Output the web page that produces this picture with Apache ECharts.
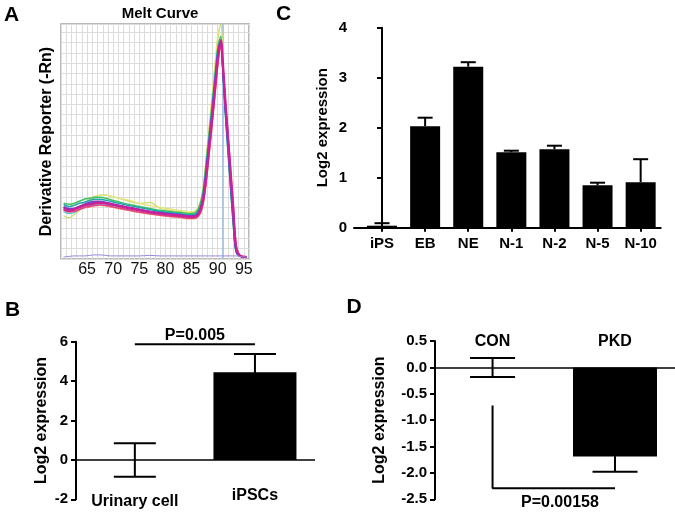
<!DOCTYPE html>
<html><head><meta charset="utf-8">
<script src="https://cdn.jsdelivr.net/npm/echarts@6/dist/echarts.min.js"></script>
<style>html,body{margin:0;padding:0;background:#fff}#c{width:675px;height:512px}</style>
</head><body><div id="c"></div>
<script>
const FONT = '"Liberation Sans", Arial, Helvetica, sans-serif';

// ---------- Panel A: melt curves ----------
const meltTemps = [60.5,61.5,62.5,63.5,64.5,65.5,66.5,67.5,68.5,69.5,71,73,75,77,79,81,83,84.5,85.5,86.2,86.8,87.3,87.8,88.4,89,89.6,90.1,90.6,91,91.5,92,92.5,93,93.5,94.2,95.5];
const meltYellowGreen = [4.2,4.0,4.3,4.7,5.1,5.6,6.0,6.2,6.2,6.1,5.9,5.6,5.4,5.5,4.9,4.7,4.6,4.5,4.5,4.9,5.7,7.2,9.6,12.8,16.0,19.2,21.6,22.8,19.2,14.8,11.0,7.2,3.6,0.9,0.3,0.2];
const meltLightYellow = [4.6,4.5,4.7,5.0,5.4,5.8,6.1,6.2,6.2,6.1,5.9,5.7,5.4,5.2,5.0,4.85,4.7,4.6,4.6,5.0,5.8,7.3,9.8,13.0,16.3,19.5,22.0,22.6,19.0,14.5,10.8,7.0,3.5,0.9,0.3,0.2];
const meltOrange = [4.7,4.5,4.6,4.8,4.95,5.05,5.15,5.2,5.15,5.05,4.9,4.7,4.5,4.35,4.2,4.1,4.0,3.9,3.9,4.05,4.5,5.5,7.3,10.2,13.2,16.4,19.0,20.5,18.7,15.0,11.7,8.3,4.9,1.4,0.4,0.2];
const meltCyan = [4.6,4.4,4.5,4.8,5.0,5.2,5.3,5.35,5.3,5.2,5.05,4.85,4.65,4.45,4.3,4.2,4.1,4.05,4.05,4.3,4.95,6.1,8.2,11.2,14.2,17.4,19.9,20.8,18.4,14.4,10.8,7.3,3.9,1.0,0.3,0.2];
const meltGreen = [5.4,5.3,5.4,5.6,5.8,5.9,6.0,6.0,5.9,5.75,5.55,5.3,5.1,4.9,4.7,4.6,4.5,4.4,4.45,4.8,5.6,7.0,9.4,12.4,15.4,18.5,20.8,21.6,18.3,14.0,10.4,6.8,3.4,0.8,0.3,0.2];
const meltTeal = [5.3,5.1,5.2,5.4,5.5,5.7,5.8,5.8,5.7,5.6,5.4,5.2,5.0,4.8,4.6,4.5,4.4,4.3,4.3,4.6,5.3,6.7,9.0,12.0,15.0,18.2,20.5,21.3,18.0,13.8,10.2,6.6,3.2,0.7,0.3,0.2];
const meltBlue = [5.0,4.8,4.9,5.1,5.25,5.4,5.5,5.5,5.45,5.35,5.2,5.0,4.8,4.6,4.5,4.4,4.3,4.2,4.2,4.45,5.1,6.4,8.6,11.6,14.6,17.8,20.2,20.9,18.2,14.2,10.6,7.0,3.6,0.8,0.3,0.2];
const meltRed = [4.8,4.6,4.6,4.8,5.0,5.1,5.2,5.25,5.2,5.1,4.95,4.75,4.55,4.4,4.25,4.15,4.05,3.95,3.95,4.1,4.6,5.6,7.5,10.4,13.4,16.6,19.2,20.6,18.8,15.3,12.0,8.6,5.2,1.6,0.4,0.2];
const meltPurple = [5.1,4.9,4.9,5.1,5.3,5.5,5.6,5.6,5.5,5.4,5.2,5.0,4.8,4.6,4.45,4.35,4.25,4.15,4.15,4.4,5.0,6.2,8.3,11.3,14.3,17.5,20.0,21.0,18.5,14.6,11.2,7.6,4.2,1.0,0.3,0.2];
const meltMagenta = [4.9,4.7,4.8,5.0,5.2,5.3,5.4,5.45,5.4,5.3,5.15,4.95,4.75,4.55,4.4,4.3,4.2,4.1,4.1,4.3,4.9,6.0,8.0,11.0,14.0,17.2,19.8,21.2,18.9,15.0,11.6,8.1,4.7,1.2,0.35,0.2];
const meltBaseline = [0.2,0.25,0.3,0.3,0.3,0.35,0.4,0.4,0.35,0.3,0.3,0.3,0.3,0.35,0.3,0.3,0.3,0.3,0.3,0.3,0.3,0.3,0.3,0.3,0.3,0.3,0.3,0.3,0.3,0.3,0.3,0.3,0.3,0.3,0.25,0.2];
const meltTickLabels = [65,70,75,80,85,90,95];
const meltMarkerTemp = 91;
const meltYTop = 22.8;

// ---------- Panel C ----------
const cCategories = ['iPS','EB','NE','N-1','N-2','N-5','N-10'];
const cValues = [0.04,2.03,3.22,1.51,1.57,0.85,0.91];
const cErrors = [0.05,0.17,0.09,0.03,0.07,0.05,0.46];

// ---------- Panel B ----------
const bCategories = ['Urinary cell','iPSCs'];
const bValues = [0,4.45];
const bErrors = [0.85,0.93];
const bPLabel = 'P=0.005';
const bPLevel = 5.87;

// ---------- Panel D ----------
const dCategories = ['CON','PKD'];
const dValues = [0,-1.69];
const dErrors = [0.18,0.29];
const dPLabel = 'P=0.00158';
const dBracketTop = -0.72;
const dBracketBottom = -2.29;

const chart = echarts.init(document.getElementById('c'), null, {renderer:'canvas'});

const meltSeriesDefs = [
  [meltYellowGreen,'#c9dc6a',1.3],
  [meltLightYellow,'#e4e67e',1.3],
  [meltOrange,'#eaa07a',1.3],
  [meltCyan,'#5cc6e6',1.4],
  [meltGreen,'#3fc25e',1.5],
  [meltTeal,'#22a4aa',1.5],
  [meltBlue,'#3b58d8',1.5],
  [meltRed,'#e6437c',1.5],
  [meltPurple,'#7b40c2',1.7],
  [meltMagenta,'#cc1f98',2.4]
];

function pairs(xs, ys){ return ys.map((v,i)=>[xs[i], v]); }
function idxPairs(ys){ return ys.map((v,i)=>[i, v]); }

function errSeries(xi, yi, values, errors, capW, both){
  return {
    type:'custom', xAxisIndex:xi, yAxisIndex:yi, z:5, silent:true,
    data: values.map((v,i)=>[i, v, errors[i]]),
    renderItem: function(params, api){
      const x = api.value(0), m = api.value(1), e = api.value(2);
      const top = api.coord([x, m + e]);
      const base = api.coord([x, both ? m - e : m]);
      const h = capW/2;
      const st = {stroke:'#000', lineWidth:2};
      const ch = [
        {type:'line', shape:{x1:top[0],y1:top[1],x2:base[0],y2:base[1]}, style:st},
        {type:'line', shape:{x1:top[0]-h,y1:top[1],x2:top[0]+h,y2:top[1]}, style:st}
      ];
      if (both) ch.push({type:'line', shape:{x1:base[0]-h,y1:base[1],x2:base[0]+h,y2:base[1]}, style:st});
      return {type:'group', children:ch};
    }
  };
}

function textPoint(xi, yi, pt, text, pos, dist){
  return {type:'scatter', xAxisIndex:xi, yAxisIndex:yi, data:[pt], symbol:'circle', symbolSize:0,
    itemStyle:{color:'#000', opacity:1}, silent:true, z:6,
    label:{show:true, position:pos, distance:dist, formatter:text, color:'#000', opacity:1,
      fontFamily:FONT, fontWeight:'bold', fontSize:16}};
}

const series = [];
series.push({type:'line', xAxisIndex:0, yAxisIndex:0, data:[[meltMarkerTemp,0],[meltMarkerTemp,meltYTop]],
  symbol:'none', silent:true, z:1, lineStyle:{color:'#7ea6dc', width:1}});
meltSeriesDefs.forEach(d=>{
  series.push({type:'line', xAxisIndex:0, yAxisIndex:0, data:pairs(meltTemps,d[0]), smooth:0.35,
    showSymbol:false, symbol:'none', silent:true, lineStyle:{color:d[1], width:d[2]}});
});
series.push({type:'line', xAxisIndex:0, yAxisIndex:0, data:pairs(meltTemps,meltBaseline), smooth:0.3,
  showSymbol:false, symbol:'none', silent:true, lineStyle:{color:'#9a86d8', width:1}});

// Panel C
series.push({type:'bar', xAxisIndex:1, yAxisIndex:1, data:idxPairs(cValues), barWidth:30, itemStyle:{color:'#000'}, silent:true});
series.push(errSeries(1,1,cValues,cErrors,15,false));

// Panel B
series.push({type:'bar', xAxisIndex:2, yAxisIndex:2, data:idxPairs(bValues), barWidth:83, itemStyle:{color:'#000'}, silent:true,
  markLine:{symbol:'none', silent:true, label:{show:false}, lineStyle:{color:'#000', width:1.5, type:'solid'}, data:[{yAxis:0}]}});
series.push(errSeries(2,2,bValues,bErrors,42,true));
series.push({type:'line', xAxisIndex:2, yAxisIndex:2, data:[[0,bPLevel],[1,bPLevel]], symbol:'none', silent:true,
  lineStyle:{color:'#000', width:2}});
series.push(textPoint(2,2,[0.5,bPLevel],bPLabel,'top',1));

// Panel D
series.push({type:'bar', xAxisIndex:3, yAxisIndex:3, data:idxPairs(dValues), barWidth:84, itemStyle:{color:'#000'}, silent:true,
  markLine:{symbol:'none', silent:true, label:{show:false}, lineStyle:{color:'#000', width:1.5, type:'solid'}, data:[{yAxis:0}]}});
series.push(errSeries(3,3,dValues,dErrors,45,true));
series.push({type:'line', xAxisIndex:3, yAxisIndex:3, data:[[0,dBracketTop],[0,dBracketBottom],[1,dBracketBottom]], symbol:'none', silent:true,
  lineStyle:{color:'#000', width:2}});
series.push(textPoint(3,3,[0.55,dBracketBottom],dPLabel,'bottom',6));

const boldLbl = {color:'#000', fontFamily:FONT, fontWeight:'bold', fontSize:15};
const blackLine = {show:true, lineStyle:{color:'#000', width:2}};
const blackTick = {show:true, length:5, inside:false, lineStyle:{color:'#000', width:2}};

const option = {
  animation:false,
  backgroundColor:'#fff',
  textStyle:{fontFamily:FONT},
  grid:[
    {left:61, top:24, width:188, height:235, show:true, borderColor:'#a3a3a3', borderWidth:1.5, backgroundColor:'#fff', outerBoundsMode:'none', containLabel:false},
    {left:354, top:27.7, width:306.7, height:200, outerBoundsMode:'none', containLabel:false},
    {left:76, top:341.7, width:239, height:157.6, outerBoundsMode:'none', containLabel:false},
    {left:435, top:341, width:240, height:158.3, outerBoundsMode:'none', containLabel:false}
  ],
  xAxis:[
    {gridIndex:0, type:'value', min:60, max:96, interval:1,
      axisLine:{show:false}, axisTick:{show:false},
      splitLine:{show:true, lineStyle:{color:'#dcdcdc', width:1}},
      axisLabel:{customValues:meltTickLabels, margin:3, color:'#111', fontFamily:FONT, fontSize:16, formatter:v=>String(v)}},
    {gridIndex:1, type:'value', min:-0.65, max:6.465,
      axisLine:Object.assign({onZero:false}, blackLine),
      axisTick:{show:true, customValues:[0,1,2,3,4,5,6], length:4, lineStyle:{color:'#000', width:2}},
      splitLine:{show:false},
      axisLabel:Object.assign({customValues:[0,1,2,3,4,5,6], margin:9, formatter:v=>cCategories[Math.round(v)]}, boldLbl)},
    {gridIndex:2, type:'value', min:-0.49, max:1.5, position:'bottom',
      axisLine:{show:false, onZero:false}, axisTick:{show:false}, splitLine:{show:false},
      axisLabel:{customValues:[0,1], margin:-12, color:'#000', fontFamily:FONT, fontWeight:'bold', fontSize:16,
        formatter:v=>(Math.round(v)===0 ? '{u|' : '{p|') + bCategories[Math.round(v)] + '}',
        rich:{u:{fontFamily:FONT, fontWeight:'bold', fontSize:16, color:'#000', padding:[6,0,0,0]},
              p:{fontFamily:FONT, fontWeight:'bold', fontSize:16, color:'#000', padding:[0,0,0,0]}}}},
    {gridIndex:3, type:'value', min:-0.47, max:1.49, position:'top',
      axisLine:{show:false, onZero:false}, axisTick:{show:false}, splitLine:{show:false},
      axisLabel:{customValues:[0,1], margin:-9, color:'#000', fontFamily:FONT, fontWeight:'bold', fontSize:16,
        formatter:v=>dCategories[Math.round(v)]}}
  ],
  yAxis:[
    {gridIndex:0, type:'value', min:0, max:meltYTop, interval:1,
      axisLine:{show:false}, axisTick:{show:false}, axisLabel:{show:false},
      splitLine:{show:true, lineStyle:{color:'#dcdcdc', width:1}},
      name:'Derivative Reporter (-Rn)', nameLocation:'middle', nameGap:6, nameRotate:90, nameMoveOverlap:false,
      nameTextStyle:{color:'#000', fontFamily:FONT, fontWeight:'bold', fontSize:16}},
    {gridIndex:1, type:'value', min:0, max:4, interval:1,
      axisLine:blackLine, axisTick:blackTick, splitLine:{show:false},
      axisLabel:Object.assign({margin:7}, boldLbl),
      name:'Log2 expression', nameLocation:'middle', nameGap:24, nameRotate:90, nameMoveOverlap:false,
      nameTextStyle:{color:'#000', fontFamily:FONT, fontWeight:'bold', fontSize:15}},
    {gridIndex:2, type:'value', min:-2, max:6, interval:2,
      axisLine:Object.assign({onZero:false}, blackLine), axisTick:blackTick, splitLine:{show:false},
      axisLabel:Object.assign({margin:8}, boldLbl),
      name:'Log2 expression', nameLocation:'middle', nameGap:26, nameRotate:90, nameMoveOverlap:false,
      nameTextStyle:{color:'#000', fontFamily:FONT, fontWeight:'bold', fontSize:16}},
    {gridIndex:3, type:'value', min:-2.5, max:0.5, interval:0.5,
      axisLine:Object.assign({onZero:false}, blackLine), axisTick:blackTick, splitLine:{show:false},
      axisLabel:Object.assign({margin:8, formatter:v=>v.toFixed(1)}, boldLbl),
      name:'Log2 expression', nameLocation:'middle', nameGap:47, nameRotate:90, nameMoveOverlap:false,
      nameTextStyle:{color:'#000', fontFamily:FONT, fontWeight:'bold', fontSize:16}}
  ],
  graphic:[
    {type:'text', x:11.5, y:15, silent:true, style:{text:'A', font:'bold 21px '+FONT, fill:'#000', align:'center', verticalAlign:'middle'}},
    {type:'text', x:160, y:13.5, silent:true, style:{text:'Melt Curve', font:'bold 15px '+FONT, fill:'#000', align:'center', verticalAlign:'middle'}},
    {type:'text', x:283.5, y:14.5, silent:true, style:{text:'C', font:'bold 21px '+FONT, fill:'#000', align:'center', verticalAlign:'middle'}},
    {type:'text', x:12.5, y:310, silent:true, style:{text:'B', font:'bold 21px '+FONT, fill:'#000', align:'center', verticalAlign:'middle'}},
    {type:'text', x:354, y:307.5, silent:true, style:{text:'D', font:'bold 21px '+FONT, fill:'#000', align:'center', verticalAlign:'middle'}}
  ],
  series:series
};
chart.setOption(option);
</script>
</body></html>
